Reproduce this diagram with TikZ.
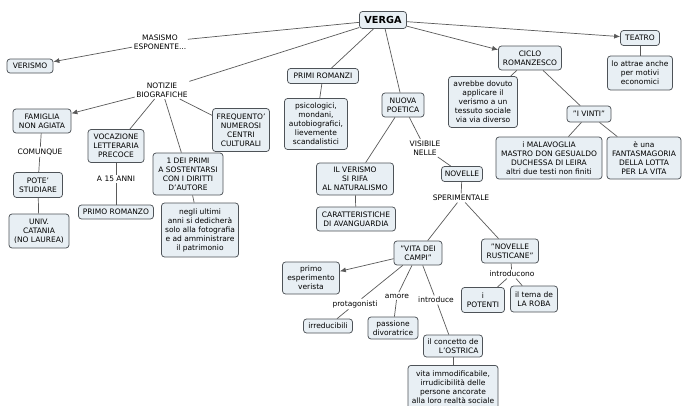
\documentclass[tikz,border=0pt]{standalone}
\usepackage{fontspec}
\setmainfont{DejaVu Sans}
\usetikzlibrary{arrows.meta}
\definecolor{boxfill}{HTML}{E8EFF4}
\definecolor{bdr}{HTML}{4E5358}
\definecolor{lnc}{HTML}{5A5A5A}
\tikzset{
  cbox/.style={draw=bdr, fill=boxfill, rounded corners=3pt, align=center, inner sep=1pt, line width=0.75pt, font=\fontsize{7.5}{9}\selectfont},
  lbl/.style={align=center, inner sep=1.5pt, fill=white, font=\fontsize{7.5}{9}\selectfont},
  conn/.style={draw=lnc, line width=0.7pt},
  arr/.style={conn, -{Latex[length=6pt,width=5pt]}}
}
\begin{document}
\begin{tikzpicture}[x=1pt,y=-1pt]
\useasboundingbox (0,0) rectangle (682,405);
\fill[white] (0,0) rectangle (682,405);
% main
\node[cbox, minimum width=47pt, minimum height=17pt, font=\fontsize{9.7}{11}\selectfont\bfseries] (verga) at (383,20) {VERGA};
% left branch
\node[lbl] (masismo) at (160,42) {MASISMO\\ESPONENTE...};
\node[cbox, minimum width=46pt, minimum height=14pt] (verismo) at (30,66) {VERISMO};
\node[lbl] (notizie) at (162,90) {NOTIZIE\\BIOGRAFICHE};
\node[cbox, minimum width=58pt, minimum height=24pt] (famiglia) at (42,121) {FAMIGLIA\\NON AGIATA};
\node[lbl] (comunque) at (40,152) {COMUNQUE};
\node[cbox, minimum width=49pt, minimum height=25pt] (pote) at (38,185) {POTE'\\STUDIARE};
\node[cbox, minimum width=60pt, minimum height=34pt] (univ) at (39,231) {UNIV.\\CATANIA\\(NO LAUREA)};
\node[cbox, minimum width=56pt, minimum height=33pt] (vocazione) at (116,146) {VOCAZIONE\\LETTERARIA\\PRECOCE};
\node[lbl] (a15) at (116,179) {A 15 ANNI};
\node[cbox, minimum width=75pt, minimum height=14pt] (primorom) at (116,212) {PRIMO ROMANZO};
\node[cbox, minimum width=70pt, minimum height=42pt] (deiprimi) at (188,174) {1 DEI PRIMI\\A SOSTENTARSI\\CON I DIRITTI\\D'AUTORE};
\node[cbox, minimum width=77pt, minimum height=54pt] (negli) at (200,230) {negli ultimi\\anni si dedicherà\\solo alla fotografia\\e ad amministrare\\il patrimonio};
\node[cbox, minimum width=57pt, minimum height=43pt] (frequento) at (241,130) {FREQUENTO'\\NUMEROSI\\CENTRI\\CULTURALI};
% middle
\node[cbox, minimum width=71pt, minimum height=15pt] (primiromanzi) at (323,76) {PRIMI ROMANZI};
\node[cbox, minimum width=63pt, minimum height=51pt] (psico) at (316,124) {psicologici,\\mondani,\\autobiografici,\\lievemente\\scandalistici};
\node[cbox, minimum width=42pt, minimum height=24pt] (nuova) at (403,105) {NUOVA\\POETICA};
\node[cbox, minimum width=77pt, minimum height=32pt] (ilverismo) at (355,179) {IL VERISMO\\SI RIFA\\AL NATURALISMO};
\node[cbox, minimum width=79pt, minimum height=24pt] (caratt) at (356,219) {CARATTERISTICHE\\DI AVANGUARDIA};
\node[lbl] (visibile) at (425,148) {VISIBILE\\NELLE};
\node[cbox, minimum width=41pt, minimum height=15pt] (novelle) at (462,174) {NOVELLE};
\node[lbl] (sperim) at (461,198) {SPERIMENTALE};
\node[cbox, minimum width=48pt, minimum height=24pt] (vita) at (418,253) {"VITA DEI\\CAMPI"};
\node[cbox, minimum width=57pt, minimum height=24pt] (rusticane) at (510,251) {"NOVELLE\\RUSTICANE"};
\node[lbl] (introducono) at (512,274) {introducono};
\node[cbox, minimum width=43pt, minimum height=25pt] (potenti) at (483,300) {i\\POTENTI};
\node[cbox, minimum width=47pt, minimum height=26pt] (roba) at (534,299) {il tema de\\LA ROBA};
\node[cbox, minimum width=57pt, minimum height=32pt] (primoesp) at (311,278) {primo\\esperimento\\verista};
\node[lbl] (protag) at (355,304) {protagonisti};
\node[cbox, minimum width=49pt, minimum height=14pt] (irred) at (328,326) {irreducibili};
\node[lbl] (amore) at (397,296) {amore};
\node[cbox, minimum width=50pt, minimum height=22pt] (passione) at (393,328) {passione\\divoratrice};
\node[lbl] (introduce) at (436,300) {introduce};
\node[cbox, minimum width=59pt, minimum height=22pt, align=right] (ostrica) at (453,346) {il concetto de\\L'OSTRICA};
\node[cbox, minimum width=90pt, minimum height=44pt, anchor=north] (vitaimm) at (453,365) {vita immodificabile,\\irrudicibilità delle\\persone ancorate\\alla loro realtà sociale};
% right
\node[cbox, minimum width=63pt, minimum height=24pt] (ciclo) at (530,58) {CICLO\\ROMANZESCO};
\node[cbox, minimum width=39pt, minimum height=15pt] (teatro) at (640,38) {TEATRO};
\node[cbox, minimum width=65pt, minimum height=34pt] (attrae) at (640,73) {lo attrae anche\\per motivi\\economici};
\node[cbox, minimum width=69pt, minimum height=51pt] (avrebbe) at (483,102) {avrebbe dovuto\\applicare il\\verismo a un\\tessuto sociale\\via via diverso};
\node[cbox, minimum width=44pt, minimum height=16pt] (vinti) at (589,114) {"I VINTI"};
\node[cbox, minimum width=106pt, minimum height=42pt] (malav) at (549,158) {i MALAVOGLIA\\MASTRO DON GESUALDO\\DUCHESSA DI LEIRA\\altri due testi non finiti};
\node[cbox, minimum width=74pt, minimum height=42pt] (fantas) at (644,158) {è una\\FANTASMAGORIA\\DELLA LOTTA\\PER LA VITA};
% connectors
\draw[conn] (verga) -- (masismo);
\draw[arr] (masismo) -- (verismo);
\draw[conn] (verga) -- (notizie);
\draw[arr] (notizie) -- (famiglia);
\draw[conn] (notizie) -- (vocazione);
\draw[conn] (notizie) -- (deiprimi);
\draw[conn] (notizie) -- (frequento);
\draw[conn] (famiglia) -- (comunque);
\draw[conn] (comunque) -- (pote);
\draw[conn] (pote) -- (univ);
\draw[conn] (vocazione) -- (a15);
\draw[conn] (a15) -- (primorom);
\draw[conn] (deiprimi) -- (negli);
\draw[conn] (verga) -- (primiromanzi);
\draw[conn] (primiromanzi) -- (psico);
\draw[conn] (verga) -- (nuova);
\draw[conn] (nuova) -- (ilverismo);
\draw[conn] (ilverismo) -- (caratt);
\draw[conn] (nuova) -- (visibile);
\draw[conn] (visibile) -- (novelle);
\draw[conn] (novelle) -- (sperim);
\draw[conn] (sperim) -- (vita);
\draw[conn] (sperim) -- (rusticane);
\draw[conn] (rusticane) -- (introducono);
\draw[conn] (introducono) -- (potenti);
\draw[conn] (introducono) -- (roba);
\draw[arr] (vita) -- (primoesp);
\draw[conn] (vita) -- (protag);
\draw[conn] (protag) -- (irred);
\draw[conn] (vita) -- (amore);
\draw[conn] (amore) -- (passione);
\draw[conn] (vita) -- (introduce);
\draw[conn] (introduce) -- (ostrica);
\draw[conn] (ostrica) -- (vitaimm);
\draw[arr] (verga) -- (ciclo);
\draw[arr] (verga) -- (teatro);
\draw[conn] (teatro) -- (attrae);
\draw[conn] (ciclo) -- (avrebbe);
\draw[conn] (ciclo) -- (vinti);
\draw[conn] (vinti) -- (malav);
\draw[conn] (vinti) -- (fantas);
\end{tikzpicture}
\end{document}
